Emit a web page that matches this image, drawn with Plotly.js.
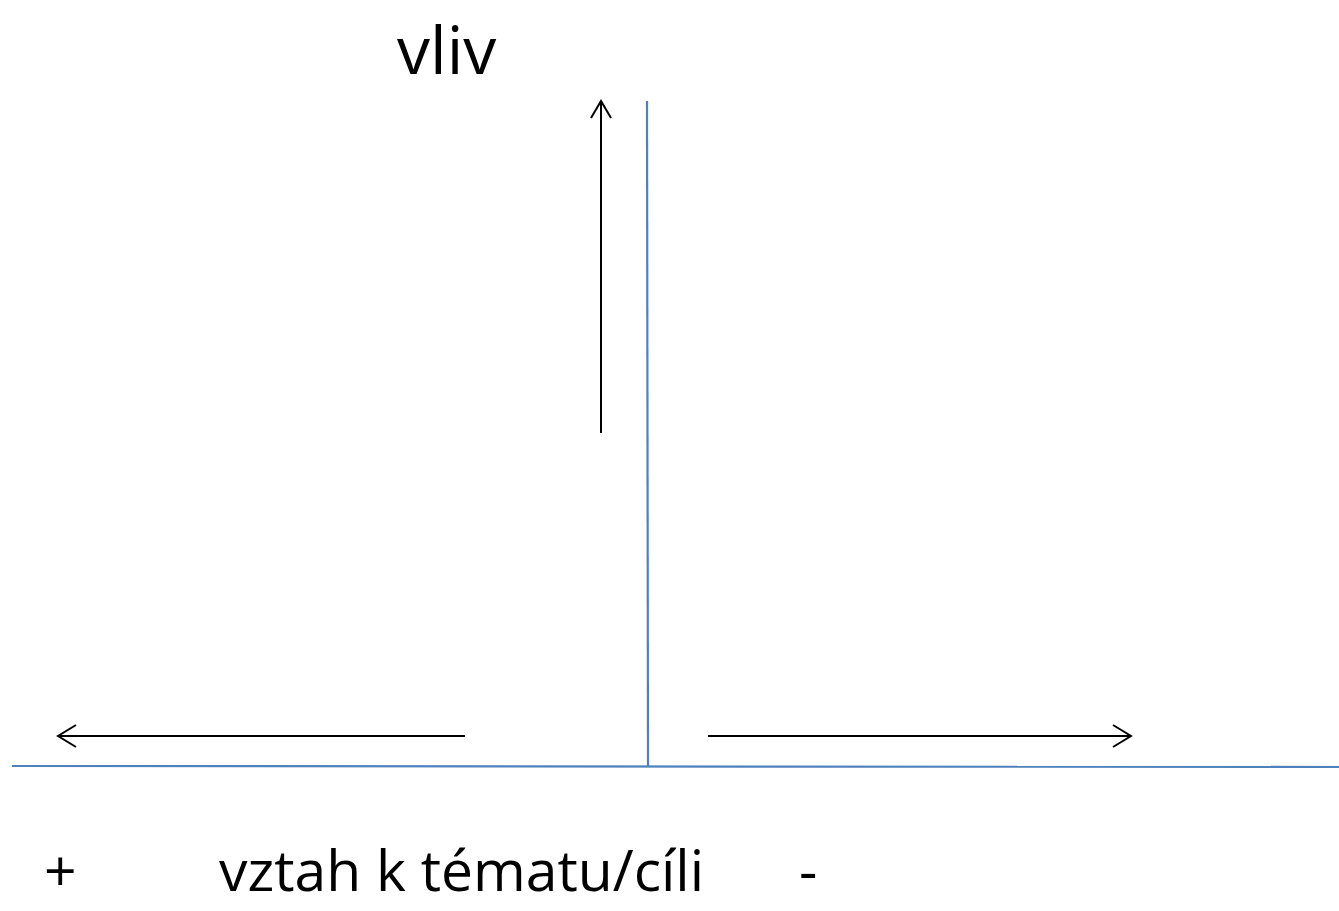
<!DOCTYPE html>
<html>
<head>
<meta charset="utf-8">
<script src="https://cdn.plot.ly/plotly-3.0.1.min.js"></script>
<style>html,body{margin:0;padding:0;background:#fff;}#chart{width:1339px;height:911px;}</style>
</head>
<body>
<div id="chart"></div>
<script>
// Blue axes of the diagram (pixel-like coordinate space)
const axisHX = [12, 1339];
const axisHY = [766, 767];
const axisVX = [647, 648];
const axisVY = [101, 766];

// Black arrows: shaft + open chevron head
const upArrowX = [601, 601, null, 591, 601, 611];
const upArrowY = [433, 101, null, 118, 101, 118];
const leftArrowX = [465, 58, null, 76, 58, 76];
const leftArrowY = [736, 736, null, 725, 736, 747];
const rightArrowX = [708, 1131, null, 1113, 1131, 1113];
const rightArrowY = [736, 736, null, 725, 736, 747];

// Labels
const labelTexts = ["vliv", "+", "vztah k tématu/cíli", "-"];
const labelX = [446, 60, 461, 808];
const labelY = [1, 910, 910, 910];

const blue = '#4F81BD';
const traces = [
  {x: axisHX, y: axisHY, mode: 'lines', line: {color: blue, width: 2.2}, hoverinfo: 'skip'},
  {x: axisVX, y: axisVY, mode: 'lines', line: {color: blue, width: 2.2}, hoverinfo: 'skip'},
  {x: upArrowX, y: upArrowY, mode: 'lines', line: {color: '#000', width: 2}, hoverinfo: 'skip'},
  {x: leftArrowX, y: leftArrowY, mode: 'lines', line: {color: '#000', width: 2}, hoverinfo: 'skip'},
  {x: rightArrowX, y: rightArrowY, mode: 'lines', line: {color: '#000', width: 2}, hoverinfo: 'skip'}
];

const annotations = labelTexts.map((t, i) => ({
  x: labelX[i], y: labelY[i], xref: 'x', yref: 'y', text: t, showarrow: false,
  xanchor: 'center', yanchor: i === 0 ? 'top' : 'bottom',
  font: {family: 'Open Sans, sans-serif', size: i === 0 ? 66 : 57, color: '#000'}
}));

const layout = {
  width: 1339, height: 911,
  margin: {l: 0, r: 0, t: 0, b: 0},
  paper_bgcolor: '#fff', plot_bgcolor: '#fff',
  showlegend: false,
  xaxis: {range: [0, 1339], visible: false, fixedrange: true},
  yaxis: {range: [911, 0], visible: false, fixedrange: true},
  annotations: annotations
};

Plotly.newPlot('chart', traces, layout, {displayModeBar: false, staticPlot: true});
</script>
</body>
</html>
